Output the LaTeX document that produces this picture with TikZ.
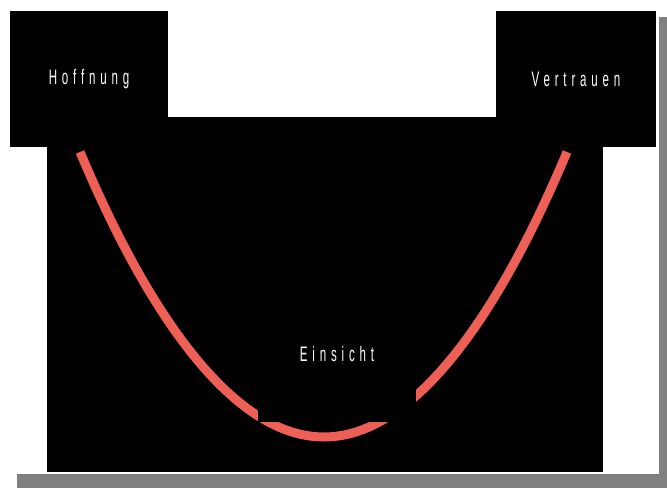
\documentclass[tikz,border=0pt]{standalone}
\usepackage{fontspec}
\usepackage{xcolor}
\usepackage{tikz}
\usetikzlibrary{positioning}
\newfontfamily\boxfont{Liberation Sans}[FakeStretch=0.55, LetterSpace=23]
\definecolor{chalkred}{RGB}{238,95,85}
\definecolor{shadowgray}{RGB}{128,128,128}

\begin{document}
\begin{tikzpicture}[x=1pt, y=-1pt,
    blackbox/.style={fill=black, text=white, inner sep=0pt,
      font=\boxfont\fontsize{21}{21}\selectfont}]
    \useasboundingbox (0,0) rectangle (667,488);
    % page with shadow
    \fill[shadowgray] (17,17) rectangle (667,488);
    \fill[white] (0,0) rectangle (659,474);
    \fill[black] (47,117) rectangle (603,472);
    % the curve
    \draw[chalkred, line width=9pt] (80,152) parabola bend (324,437) (567,152);
    \foreach \Point/\Name/\Label/\Width in {
      (89,79)/hoffnung/Hoffnung/158,
      (576,79)/vertrauen/Vertrauen/160
    }
    \node[blackbox, minimum width=\Width pt, minimum height=136pt] (\Name) at \Point {\Label};
    \node[blackbox, minimum width=158pt, minimum height=136pt] (einsicht) at (337,354) {Einsicht};
  \end{tikzpicture}
\end{document}
